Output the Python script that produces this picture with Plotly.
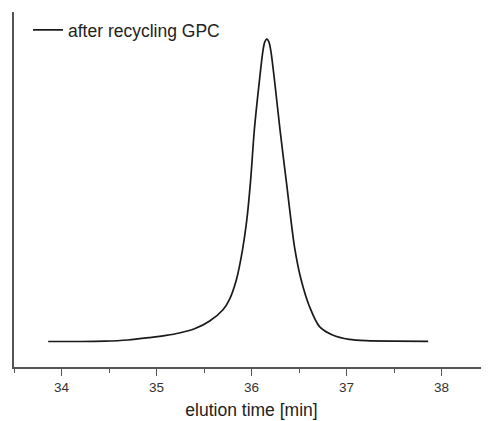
import plotly.graph_objects as go

# elution time [min] and normalized detector signal
time_min = [33.86, 34.2, 34.45, 34.7, 34.93, 35.1, 35.24, 35.4, 35.56, 35.70,
            35.77, 35.84, 35.905, 35.95, 35.99, 36.03, 36.084, 36.12, 36.14, 36.161,
            36.183, 36.204, 36.242, 36.30, 36.37, 36.453, 36.523, 36.611, 36.716,
            36.853, 37.03, 37.21, 37.5, 37.86]
signal = [0.0, 0.0, 0.001, 0.005, 0.013, 0.020, 0.028, 0.042, 0.068, 0.105,
          0.14, 0.203, 0.302, 0.40, 0.53, 0.70, 0.864, 0.96, 0.99, 1.0,
          0.99, 0.96, 0.864, 0.70, 0.52, 0.312, 0.203, 0.115, 0.049,
          0.0215, 0.007, 0.0026, 0.001, 0.0007]

x_ticks = [34, 35, 36, 37, 38]
series_name = "after recycling GPC"

fig = go.Figure()
fig.add_trace(go.Scatter(
    x=time_min, y=signal, mode="lines", name=series_name,
    line=dict(color="#1a1a1a", width=1.7, shape="spline", smoothing=0.8),
    showlegend=True,
))

font_family = "Liberation Sans, Arial, sans-serif"
fig.update_layout(
    width=481, height=413,
    margin=dict(l=6, r=0, t=4, b=54),
    paper_bgcolor="white", plot_bgcolor="white",
    font=dict(family=font_family, color="#333333"),
    showlegend=True,
    legend=dict(x=0.0295, y=1.0, xanchor="left", yanchor="top",
                bgcolor="rgba(0,0,0,0)", borderwidth=0,
                font=dict(size=17.5, color="#222222")),
    xaxis=dict(
        range=[33.5, 38.5], tickvals=x_ticks, ticktext=[str(t) for t in x_ticks],
        showline=True, linecolor="#555555", linewidth=1.5,
        ticks="outside", ticklen=7, tickwidth=1.3, tickcolor="#555555",
        minor=dict(ticks="outside", ticklen=4, tickwidth=1.3, tickcolor="#555555", dtick=0.5, tick0=33.5),
        showgrid=False, zeroline=False, automargin=False,
        tickfont=dict(size=13.5, color="#333333"),
        title=dict(text="elution time [min]", font=dict(size=17.5, color="#222222"), standoff=10),
    ),
    yaxis=dict(
        range=[-0.0843, 1.089], showline=True, linecolor="#555555", linewidth=1.5,
        showticklabels=False, ticks="", showgrid=False, zeroline=False, automargin=False,
    ),
)

fig.write_html("out.html")
